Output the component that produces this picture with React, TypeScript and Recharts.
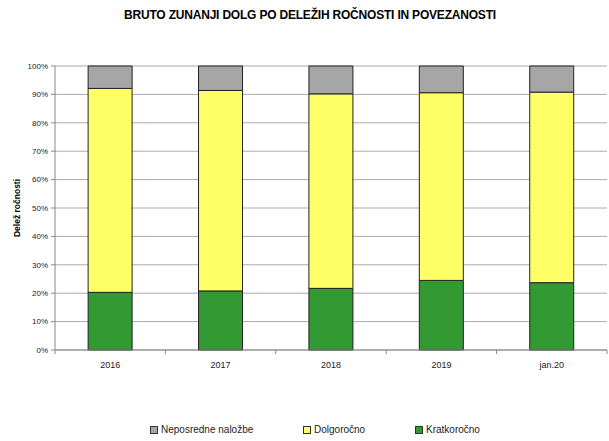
import { BarChart, Bar, XAxis, YAxis, CartesianGrid } from 'recharts';

const categories = ['2016', '2017', '2018', '2019', 'jan.20'];
const kratkorocno = [20.3, 20.8, 21.7, 24.5, 23.7];
const dolgorocno = [71.8, 70.6, 68.5, 66.1, 67.1];
const neposredne = [7.9, 8.6, 9.8, 9.4, 9.2];
const yTicks = [0, 10, 20, 30, 40, 50, 60, 70, 80, 90, 100];

const data = categories.map((c, i) => ({
  name: c,
  kratko: kratkorocno[i],
  dolgo: dolgorocno[i],
  nepo: neposredne[i],
}));

const legendItems = [
  { label: 'Neposredne naložbe', color: '#A6A6A6', left: 150 },
  { label: 'Dolgoročno', color: '#FFFF66', left: 303 },
  { label: 'Kratkoročno', color: '#339933', left: 415 },
];

const BAND = 552 / categories.length;

// Excel-style ticks between categories
function XTick(props: any) {
  const { x, y, payload, index } = props;
  const axisY = y - 8;
  return (
    <g>
      <line x1={x - BAND / 2} y1={axisY} x2={x - BAND / 2} y2={axisY + 4} stroke="#888" />
      {index === categories.length - 1 && (
        <line x1={x + BAND / 2} y1={axisY} x2={x + BAND / 2} y2={axisY + 4} stroke="#888" />
      )}
      <text x={x} y={axisY + 18} textAnchor="middle" fontSize={9} fill="#222">
        {payload.value}
      </text>
    </g>
  );
}

export default function App() {
  return (
    <div style={{ position: 'absolute', left: 0, top: 0, width: 609, height: 441, background: '#fff', fontFamily: '"Liberation Sans", Arial, sans-serif' }}>
      <div style={{ position: 'absolute', top: 8, left: 0, width: 620, textAlign: 'center', fontWeight: 'bold', fontSize: 12, color: '#000', letterSpacing: -0.2 }}>
        BRUTO ZUNANJI DOLG PO DELEŽIH ROČNOSTI IN POVEZANOSTI
      </div>
      <BarChart
        width={609}
        height={441}
        data={data}
        margin={{ top: 66, right: 2, left: 5, bottom: 61 }}
        barCategoryGap="30%"
      >
        <CartesianGrid vertical={false} stroke="#aaa" />
        <XAxis
          dataKey="name"
          height={30}
          tick={<XTick />}
          tickLine={false}
          axisLine={{ stroke: '#888' }}
          interval={0}
        />
        <YAxis
          width={50}
          domain={[0, 100]}
          ticks={yTicks}
          tickFormatter={(v) => `${v}%`}
          tick={{ fontSize: 8, fill: '#222' }}
          tickLine={{ stroke: '#888' }}
          tickSize={4}
          tickMargin={3}
          axisLine={{ stroke: '#888' }}
          label={{ value: 'Delež ročnosti', angle: -90, position: 'insideLeft', offset: 12, style: { fontSize: 8.5, fontWeight: 'bold', fill: '#000', textAnchor: 'middle' } }}
        />
        <Bar dataKey="kratko" stackId="a" fill="#339933" stroke="#222" strokeWidth={1} isAnimationActive={false} />
        <Bar dataKey="dolgo" stackId="a" fill="#FFFF66" stroke="#222" strokeWidth={1} isAnimationActive={false} />
        <Bar dataKey="nepo" stackId="a" fill="#A6A6A6" stroke="#222" strokeWidth={1} isAnimationActive={false} />
      </BarChart>
      {legendItems.map((it) => (
        <div
          key={it.label}
          style={{ position: 'absolute', left: it.left, top: 424, display: 'flex', alignItems: 'center', fontSize: 10, color: '#222' }}
        >
          <span style={{ width: 6, height: 6, background: it.color, border: '1px solid #333', marginRight: 3, display: 'inline-block' }} />
          {it.label}
        </div>
      ))}
    </div>
  );
}
